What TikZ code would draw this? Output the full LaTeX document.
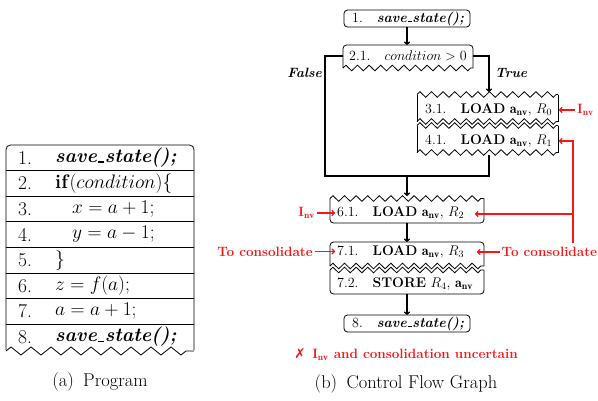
\documentclass[tikz,border=0pt]{standalone}
\usepackage{fix-cm}
\usepackage{fontspec}
\newfontfamily\symfont{DejaVu Sans}
\usetikzlibrary{decorations.pathmorphing,arrows.meta}
\definecolor{redc}{RGB}{250,20,20}
\newcommand{\inv}{\textbf{I}$_{\mathbf{nv}}$}
\newcommand{\anv}{$\mathbf{a_{nv}}$}
\newcommand{\us}{\kern.06em\vbox{\hrule width .32em height .07em}\kern.02em}
\newcommand{\savest}{\textbf{\textit{save\us state();}}}
\begin{document}
\begin{tikzpicture}[x=1pt,y=-1pt,
  box/.style={line width=0.8pt, rounded corners=3.5pt},
  side/.style={line width=0.8pt},
  zz/.style={line width=0.8pt, decorate, decoration={zigzag, segment length=11.6pt, amplitude=2.8pt}},
  lzz/.style={line width=0.8pt, decorate, decoration={zigzag, segment length=20pt, amplitude=4pt}},
  flowline/.style={line width=1.1pt},
  flow/.style={line width=1.1pt, -{To[length=3.5pt,width=6pt]}},
  rline/.style={line width=1.3pt, draw=redc},
  rflow/.style={line width=1.3pt, draw=redc, -{To[length=3.5pt,width=6pt]}},
  cfgt/.style={font=\fontsize{14}{16}\selectfont, inner sep=0pt, anchor=west},
  lt/.style={font=\fontsize{19.5}{23}\selectfont, inner sep=0pt, anchor=west},
  redt/.style={font=\fontsize{13.5}{16}\selectfont\bfseries, text=redc, inner sep=2pt},
  capt/.style={font=\fontsize{18.5}{22}\selectfont, inner sep=0pt}
]
\useasboundingbox (0,0) rectangle (598,400);

% ---------------- (a) Program ----------------
\draw[box, rounded corners=4.5pt] (6,350) -- (6,145) -- (194,145) -- (194,350);
\foreach \k in {1,...,7}{
  \draw[side] (6,{145+25.6*\k}) -- (194,{145+25.6*\k});
}
\draw[lzz] (6,351) -- (194,351);
\node[lt] (n1) at (18,157.8) {1.};
\node[lt] (c1) at (55,157.8) {\savest};
\node[lt] (n2) at (18,183.4) {2.};
\node[lt] (c2) at (55,183.4) {\textbf{if}$(condition)\{$};
\node[lt] (n3) at (18,209) {3.};
\node[lt] (c3) at (72,209) {$x = a + 1;$};
\node[lt] (n4) at (18,234.6) {4.};
\node[lt] (c4) at (72,234.6) {$y = a - 1;$};
\node[lt] (n5) at (18,260.2) {5.};
\node[lt] (c5) at (55,260.2) {$\}$};
\node[lt] (n6) at (18,285.8) {6.};
\node[lt] (c6) at (55,285.8) {$z = f(a);$};
\node[lt] (n7) at (18,311.4) {7.};
\node[lt] (c7) at (55,311.4) {$a = a + 1;$};
\node[lt] (n8) at (18,337) {8.};
\node[lt] (c8) at (55,337) {\savest};
\node[capt] (capa) at (100,382) {(a)\enspace Program};

% ---------------- (b) Control Flow Graph ----------------
% box 1
\draw[box] (344,10) rectangle (470,27);
\node[cfgt] (t1) at (352,18.5) {1.\quad\savest};
\coordinate (b1s) at (407,27);
% box 2.1
\draw[box] (343,68) -- (343,45) -- (473,45) -- (473,68);
\draw[zz] (343,68) -- (473,68);
\node[cfgt] (t2) at (349,56) {2.1.\quad $condition > 0$};
\coordinate (b2n) at (407,45);
\coordinate (b2w) at (343,56);
\coordinate (b2e) at (473,56);
% box 3.1
\draw[zz] (417,94.5) -- (558,94.5);
\draw[side] (417,94.5) -- (417,121.5);
\draw[side] (558,94.5) -- (558,121.5);
\draw[zz] (417,121.5) -- (558,121.5);
\node[cfgt] (t3) at (425,110) {3.1.\quad\textbf{LOAD} \anv, $R_0$};
\coordinate (b3n) at (489,92);
\coordinate (b3e) at (559,110);
% box 4.1
\draw[zz] (417,125.5) -- (558,125.5);
\draw[side] (417,125.5) -- (417,152.5);
\draw[side] (558,125.5) -- (558,152.5);
\draw[zz] (417,152.5) -- (558,152.5);
\node[cfgt] (t4) at (425,141) {4.1.\quad\textbf{LOAD} \anv, $R_1$};
\coordinate (b4s) at (489,155);
\coordinate (b4e) at (559,141);
% box 6.1
\draw[zz] (330,198.5) -- (484,198.5);
\draw[box] (330,198.5) -- (330,223) -- (484,223) -- (484,198.5);
\node[cfgt] (t6) at (337,213) {6.1.\quad\textbf{LOAD} \anv, $R_2$};
\coordinate (b6n) at (407,196);
\coordinate (b6s) at (407,223);
\coordinate (b6l) at (335,213);
\coordinate (b6r) at (475,214);
% box 7.1
\draw[box] (330,266) -- (330,242) -- (484,242) -- (484,266);
\draw[zz] (330,266) -- (484,266);
\node[cfgt] (t7) at (337,251.5) {7.1.\quad\textbf{LOAD} \anv, $R_3$};
\coordinate (b7n) at (407,242);
\coordinate (b7l) at (335,251.5);
\coordinate (b7r) at (477,252);
% box 7.2
\draw[zz] (330,270) -- (484,270);
\draw[box] (330,270) -- (330,294) -- (484,294) -- (484,270);
\node[cfgt] (t72) at (337,284) {7.2.\quad\textbf{STORE} $R_4$, \anv};
\coordinate (b72s) at (407,294);
% box 8
\draw[box] (344,315) rectangle (470,332);
\node[cfgt] (t8) at (352,323.5) {8.\quad\savest};
\coordinate (b8n) at (407,315);

% black connectors
\coordinate (fc) at (325,176);
\coordinate (mg) at (407,176);
\draw[flow] (b1s) -- (b2n);
\draw[flowline] (b2w) -| (fc) -- (mg);
\draw[flowline] (b4s) |- (mg);
\draw[flow] (mg) -- (b6n);
\draw[flow] (b2e) -| (b3n);
\draw[flow] (b6s) -- (b7n);
\draw[flow] (b72s) -- (b8n);
\node[font=\fontsize{13.5}{16}\selectfont\bfseries\itshape, anchor=east, inner sep=0pt] (lfalse) at (322,73) {False};
\node[font=\fontsize{13.5}{16}\selectfont\bfseries\itshape, anchor=west, inner sep=0pt] (ltrue) at (495,73) {True};

% red annotations
\node[redt, anchor=west] (inv1) at (575,110) {\inv};
\draw[rflow] (inv1.west) -- (b3e);
\node[redt, anchor=west] (tcr) at (499.5,252) {To consolidate};
\draw[rflow] (tcr.west) -- (b7r);
\coordinate (vb) at (573,243);
\coordinate (vj) at (573,214);
\draw[rflow] (vb) |- (b4e);
\draw[rflow] (vj) -- (b6r);
\node[redt, anchor=east] (inv2) at (317,213) {\inv};
\draw[rflow] (inv2.east) -- (b6l);
\node[redt, anchor=east] (tcl) at (315,251.5) {To consolidate};
\draw[rflow] (tcl.east) -- (b7l);
\node[redt] (unc) at (406,355) {{\symfont ✗}\enspace\inv{} and consolidation uncertain};

\node[capt] (capb) at (406,384) {(b)\enspace Control Flow Graph};
\end{tikzpicture}
\end{document}
